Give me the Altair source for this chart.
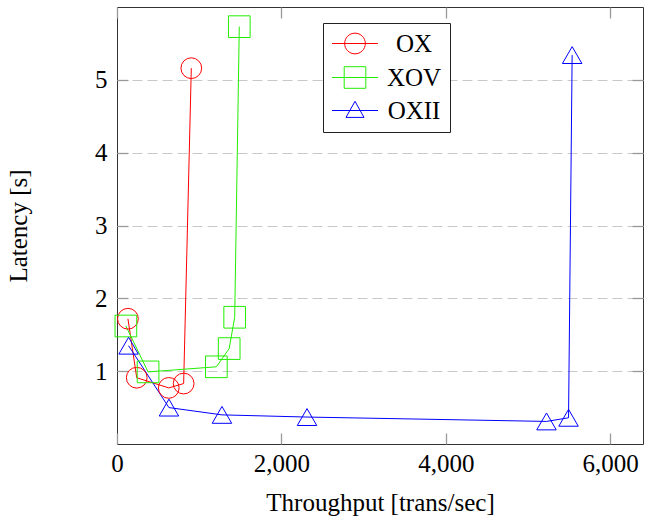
import altair as alt
import pandas as pd

# ---- data ----
series_names = ["OX", "XOV", "OXII"]
ox_throughput = [133, 240, 630, 811, 904]
ox_latency = [1.72, 0.91, 0.77, 0.83, 5.16]
xov_throughput = [108, 378, 1209, 1365, 1432, 1488]
xov_latency = [1.62, 0.99, 1.06, 1.31, 1.74, 5.73]
oxii_throughput = [141, 632, 1277, 2312, 5226, 5494, 5538]
oxii_latency = [1.35, 0.50, 0.40, 0.37, 0.31, 0.36, 5.34]
x_ticks = [0, 2000, 4000, 6000]
y_ticks = [1, 2, 3, 4, 5]

colors = ["#ff0000", "#22ee00", "#0000ff"]
shapes = ["circle", "square", "triangle-up"]
sizes = [430, 470, 380]
# legend glyphs: a line segment with the marker in its middle
legend_shapes = [
    "M-1,0L3,0M1.9,0A0.9,0.9,0,1,1,0.1,0A0.9,0.9,0,1,1,1.9,0",
    "M-1,0L3,0M0.06,-0.94L1.94,-0.94L1.94,0.94L0.06,0.94Z",
    "M-1,0L3,0M1,-0.8L1.78,0.6L0.22,0.6Z",
]

rows = []
for name, xs_, ys_ in zip(series_names,
                          [ox_throughput, xov_throughput, oxii_throughput],
                          [ox_latency, xov_latency, oxii_latency]):
    for i, (a, b) in enumerate(zip(xs_, ys_)):
        rows.append({"series": name, "x": a, "y": b, "order": i})
df = pd.DataFrame(rows)

FONT = "Liberation Serif"
FS = 25
TICK_COLOR = "#999999"
TL = 11  # tick length (drawn inward by shifting the axis inward)

xs = alt.Scale(domain=[0, 6400], nice=False, zero=False)
ys = alt.Scale(domain=[0, 6], nice=False, zero=False)
cs = alt.Scale(domain=series_names, range=colors)
lss = alt.Scale(domain=series_names, range=legend_shapes)

tick_style = dict(domain=False, tickSize=TL, tickColor=TICK_COLOR, tickWidth=1.3, offset=-TL)

x_axis = alt.Axis(
    orient="bottom", values=x_ticks, format=",d", title="Throughput [trans/sec]",
    grid=False, **tick_style,
    labelFont=FONT, labelFontSize=FS, labelColor="black", labelBaseline="alphabetic",
    labelPadding=27.5, labelFlush=False, labelOverlap=False,
    titleFont=FONT, titleFontSize=FS, titleFontWeight="normal", titleColor="black",
    titleY=77, titleBaseline="alphabetic",
)
y_axis = alt.Axis(
    orient="left", values=y_ticks, format="d", title="Latency [s]",
    grid=False, **tick_style,
    labelFont=FONT, labelFontSize=FS, labelColor="black", labelPadding=10,
    titleFont=FONT, titleFontSize=FS, titleFontWeight="normal", titleColor="black",
    titleAngle=270, titleX=-102, titleY=218.5, titleAlign="center", titleBaseline="alphabetic",
)
x_axis_top = alt.Axis(orient="top", values=x_ticks, labels=False, title=None, grid=False, **tick_style)
y_axis_right = alt.Axis(orient="right", values=y_ticks, labels=False, title=None, grid=False, **tick_style)
y_axis_grid = alt.Axis(
    orient="left", values=y_ticks, labels=False, ticks=False, domain=False, title=None,
    grid=True, gridDash=[10, 5], gridColor="#c8c8c8", gridWidth=1,
)

leg = alt.Legend(
    title=None, orient="none", legendX=206, legendY=16,
    labelFont=FONT, labelFontSize=FS, labelColor="black", labelAlign="center",
    labelOffset=58, symbolSize=529, symbolStrokeWidth=1, symbolOpacity=1,
    symbolFillColor="transparent",
    rowPadding=7, padding=8, strokeColor="#222222", fillColor="white",
)

base = alt.Chart(df)

grid_layer = base.mark_point(opacity=0).encode(
    x=alt.X("x:Q", scale=xs, axis=None),
    y=alt.Y("y:Q", scale=ys, axis=y_axis_grid),
)

lines = base.mark_line(strokeWidth=1).encode(
    x=alt.X("x:Q", scale=xs, axis=x_axis),
    y=alt.Y("y:Q", scale=ys, axis=y_axis),
    color=alt.Color("series:N", scale=cs, legend=leg),
    order="order:Q",
)

marker_layers = []
for name, shp, sz in zip(series_names, shapes, sizes):
    marker_layers.append(
        base.transform_filter(alt.datum.series == name)
        .mark_point(filled=False, strokeWidth=1, opacity=1, shape=shp, size=sz)
        .encode(
            x=alt.X("x:Q", scale=xs, axis=x_axis),
            y=alt.Y("y:Q", scale=ys, axis=y_axis),
            color=alt.Color("series:N", scale=cs, legend=leg),
        )
    )
inner = alt.layer(lines, *marker_layers)

ghost = base.mark_point(opacity=0).encode(
    x=alt.X("x:Q", scale=xs, axis=x_axis_top),
    y=alt.Y("y:Q", scale=ys, axis=y_axis_right),
)

legend_layer = base.mark_point(filled=False, opacity=0).encode(
    x=alt.X("x:Q", scale=xs, axis=None),
    y=alt.Y("y:Q", scale=ys, axis=None),
    color=alt.Color("series:N", scale=cs, legend=leg),
    shape=alt.Shape("series:N", scale=lss, legend=leg),
)

chart = (
    alt.layer(grid_layer, inner, ghost, legend_layer)
    .resolve_axis(x="independent", y="independent")
    .properties(
        width=526, height=437,
        autosize=alt.AutoSizeParams(type="none"),
        padding={"left": 117, "top": 7, "right": 3, "bottom": 75},
        background="white",
    )
    .configure_view(stroke="#333333", strokeWidth=1)
)

chart.save("out.html", embed_options={"renderer": "svg", "actions": False})
